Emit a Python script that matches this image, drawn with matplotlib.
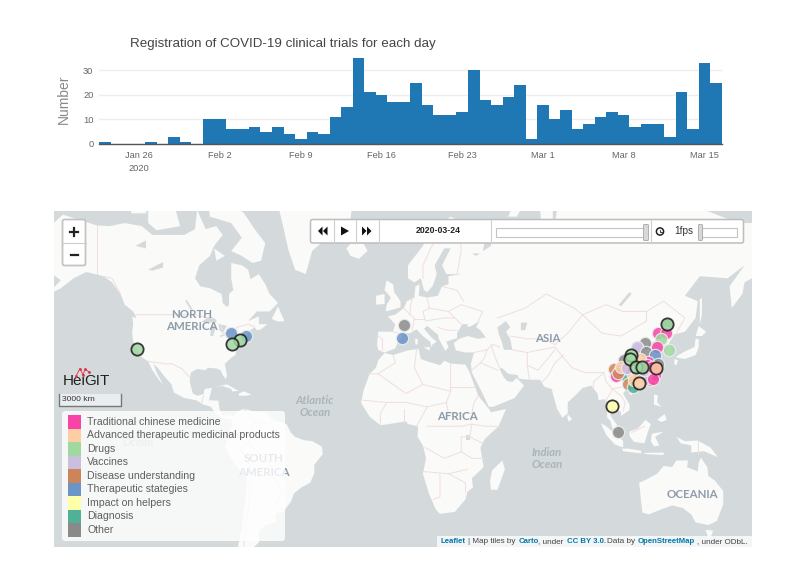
import numpy as np
import pandas as pd
import matplotlib
matplotlib.use("Agg")
import matplotlib.pyplot as plt
from matplotlib.patches import Rectangle, FancyBboxPatch, Polygon, Circle

plt.rcParams['font.family'] = ['Liberation Sans', 'DejaVu Sans']

# trials per day
days = pd.date_range("2020-01-23", "2020-03-16")
trials = [1, 0, 0, 0, 1, 0, 3, 1, 0,
          10, 10, 6, 6, 7, 5, 7, 4, 2, 5, 4, 11, 15, 35, 21, 20, 17, 17, 25, 16, 12, 12, 13, 30, 18, 16, 19, 24, 2,
          16, 10, 14, 6, 8, 11, 13, 12, 7, 8, 8, 3, 21, 6, 33, 25]
tick_days = pd.to_datetime(["2020-01-26", "2020-02-02", "2020-02-09", "2020-02-16",
                            "2020-02-23", "2020-03-01", "2020-03-08", "2020-03-15"])
tick_names = ["Jan 26\n2020", "Feb 2", "Feb 9", "Feb 16", "Feb 23", "Mar 1", "Mar 8", "Mar 15"]

# legend
categories = ["Traditional chinese medicine", "Advanced therapeutic medicinal products", "Drugs",
              "Vaccines", "Disease understanding", "Therapeutic stategies", "Impact on helpers",
              "Diagnosis", "Other"]
cat_colors = ["#f844a8", "#fdcda4", "#a0d8a0", "#cbbfe0", "#cc8558", "#6b94c8", "#ffffaa", "#50b098", "#8a8a8a"]

# trial sites: lon, lat, category, black ring
site_lon = [-122, -78, -71, -73.9, -77.4, 3.1, 2.1, 100.6, 103.8,
            126.8, 122.6, 126.2, 123.7, 121.8, 127.4, 116.3, 113.2, 112.4, 116.6, 121, 106.2,
            117.9, 114, 101.8, 106.2, 106.9, 102.7, 115.5, 120.2, 110.8, 118.7, 108.2, 110.4, 117.1,
            122.6, 109.3, 104.6, 112.4, 121, 116.3, 106.9, 118.5, 113, 103.5, 105, 116, 119.5, 111, 108, 120,
            126.8, 109.6, 109.3, 111.9, 114.8, 114.8, 121.3, 121.3, 113.5]
site_lat = [37.5, 42.9, 42, 40.6, 39, 45.8, 41.2, 13.5, 1.3,
            45.9, 43.2, 43.1, 41, 38.2, 36.9, 39.5, 37.5, 38.1, 36, 35, 32.9,
            32.2, 33.5, 29.5, 28.5, 27, 26.6, 27.2, 27.9, 27.2, 25, 23.1, 21.9, 31,
            31.6, 31, 29.1, 28.5, 27.2, 25.4, 29.7, 29, 30, 28, 30.5, 29, 30.5, 25, 30, 25.5,
            45.9, 35.1, 33.5, 30.1, 30.1, 30.1, 29.7, 29.7, 23.5]
site_cat = [2, 5, 5, 2, 2, 8, 5, 6, 8,
            8, 0, 0, 2, 0, 2, 8, 3, 3, 8, 5, 8,
            0, 1, 4, 1, 7, 0, 3, 0, 1, 4, 4, 7, 0,
            8, 0, 0, 4, 0, 3, 0, 1, 7, 4, 1, 3, 0, 1, 3, 0,
            2, 2, 2, 2, 8, 2, 0, 1, 1]
site_ring = [1, 0, 0, 1, 1, 0, 0, 1, 0,
             0, 0, 0, 0, 0, 0, 0, 0, 0, 0, 0, 0,
             0, 0, 0, 0, 0, 0, 0, 0, 0, 0, 0, 0, 0,
             0, 0, 0, 0, 0, 0, 0, 0, 0, 0, 0, 0, 0, 0, 0, 0,
             1, 1, 1, 1, 0, 1, 0, 1, 1]

# land outlines, lon/lat
north_america = [(-168,65.5),(-166,68.5),(-157,71.3),(-141,69.6),(-135,69.5),(-128,70),(-120,69.5),(-115,68),(-108,68),
    (-100,68),(-95,69),(-94,72),(-90,69),(-85,69.5),(-82,68),(-86,66),(-88,64),(-93,62),(-95,59),(-92.5,57),(-88,56.5),
    (-82.5,55),(-82,52.5),(-80,51.3),(-79,52),(-79,55),(-77,56),(-78,59),(-78,62.5),(-73,62),(-70,61),(-69,58.8),(-65,60),
    (-62,57.5),(-60,55),(-56,52.5),(-60,50),(-66,50),(-70,47),(-65,48.5),(-65,46),(-61,46),(-64,44.3),(-66,44),(-67,45),
    (-70,43.5),(-71,41.5),(-74,40.5),(-75.5,38),(-76,35),(-78,34),(-81,31.5),(-80,27),(-80.5,25.2),(-82,27),(-83,29),
    (-85,29.7),(-89,30),(-90,29),(-94,29.5),(-97,28),(-97.5,24),(-96,19),(-94,18),(-91,18.7),(-90.5,21),(-87,21.5),(-88,18),
    (-88.5,16),(-84,15.8),(-83.5,12),(-82,9),(-79.5,9.5),(-77.3,8.5),(-78,7.5),(-80,7.3),(-83,8.3),(-85.5,10),(-87.5,13),
    (-91,14),(-94.5,16),(-100,17),(-105,19.5),(-106,23),(-109,26),(-112.5,30),(-114.5,31.5),(-113,28),(-110,23),(-112,25),
    (-115,29),(-117,32.5),(-120.5,34.5),(-122.5,37.5),(-124,40),(-124.5,43),(-124,46.5),(-124.5,48.3),(-122.5,48),(-124,50),
    (-128,52),(-130,55),(-134,58),(-138,59.5),(-146,60.5),(-152,59),(-158,56.5),(-165,54.5),(-158,58.5),(-162,60),(-165,62),
    (-161,64)]
south_america = [(-77.3,8.5),(-75,11),(-72,12),(-68,11),(-62,10.5),(-58,7),(-52,5),(-50,1),(-48,-1),(-44,-2.5),(-40,-3),
    (-35.5,-5.5),(-35,-9),(-39,-14),(-39,-18),(-41,-22),(-45,-24),(-48.5,-26.5),(-50,-30),(-53.5,-34),(-57,-34.5),(-57,-38),
    (-62,-39),(-65,-41),(-65,-45),(-68,-47),(-75,-47),(-73,-40),(-71.5,-30),(-70.5,-20),(-76,-14),(-81,-6),(-80,-2),(-79,1.5),
    (-77.5,4),(-78,7.5)]
africa = [(-6,35.8),(-2,35),(5,36.8),(10,37.3),(11,33.5),(15,32.3),(20,31),(22,32.8),(25,31.7),(32,31.2),(34,28),(36,23),
    (38,18),(43,12),(44,10.5),(51,12),(47.5,4),(41,-2),(39,-6),(40.5,-15),(35,-20),(35.5,-24),(32.8,-26),(32,-29),(27,-34),
    (20,-34.8),(18,-33),(15,-27),(12,-18),(13.5,-11),(12,-5),(9.5,-1),(9.7,4),(5,5),(4,6.3),(-4,5),(-8,4.5),(-13,8.5),
    (-17,14.7),(-16,20),(-13,27.5),(-10,30),(-9,33)]
eurasia = [(-6,36),(-9,37),(-9.5,39),(-9,43.5),(-2,43.5),(-1,46),(-4.5,48.5),(-1,49),(3,51),(4.5,53),(8,54),(8.5,57),
    (10.5,57.5),(10,54.5),(14,54),(19,54.5),(21,57),(24,57.5),(24,59.5),(30,60),(23,60),(21,62),(25,65.5),(22,65.5),(17.5,62),
    (18.5,60),(16.5,57),(14,55.5),(12.5,56),(11,59),(8,58),(5,59),(5,62),(12,66),(16,69),(25,71),(31,70),(41,67),(40,64.5),
    (35,64.5),(37,64),(44,66),(44,68.5),(54,68.5),(60,69),(68,68.5),(67,72),(73,73),(73,68),(75,72),(80,73.5),(90,76),(105,78),
    (113,74),(128,73),(140,72.5),(160,70),(170,70),(180,69),(180,65),(177,62.5),(170,60),(163,58),(162,55),(157,51),(156,57),
    (163,62),(155,59),(142,59.5),(135,54.5),(141,53),(140,48),(135,43.5),(130,42.5),(127.5,39.5),(129.5,36),(126.5,34.5),
    (126,37.5),(125,39.7),(121.5,39),(122,40.7),(118,39),(119,37.3),(122.5,37),(119.5,35),(122,31),(121,28),(118,24.5),
    (114,22.3),(110,21),(108,21.5),(106,19),(109,14),(109,11.5),(105,8.8),(105,10.5),(102,12.5),(100.5,13.5),(100,9),(103.5,4),
    (104,1.5),(101,3),(100,6.5),(98.5,8),(98.5,13),(97.5,16.5),(94.5,16),(94,19),(91,22.5),(87,21.5),(85,19.5),(80,15),(80,10),
    (77.5,8),(75,12),(73,19),(72.5,21),(69,22),(67,25),(62,25),(57,25.5),(56.5,27),(52,27.5),(49,30),(48,29.5),(50,26),
    (51.5,24.5),(54,24),(56,25.8),(59.5,22.5),(55,17),(45,13),(43,13),(40,19),(35,28),(34.5,31.5),(36,36),(32,36),(27.5,36.8),
    (26.5,39.5),(29,41),(33,42),(38,41),(41.5,41.5),(39,44),(37,45),(38.5,47),(35,45.5),(33,45),(33,46),(30.5,46),(28,43),
    (28,41.2),(26,40.8),(23,40),(24,38),(22.5,36.6),(19.5,41),(19,42.5),(14,45.5),(12.5,44.5),(16,41.5),(18.5,40),(16.5,39),
    (16,38),(15.5,40),(12,42),(9,44.3),(6,43),(3.5,43),(0,39.5),(-1,37.5),(-5,36.3)]
australia = [(113.5,-22),(114,-26),(115,-34.3),(118,-35),(124,-33),(129,-31.5),(134,-32.5),(138,-35),(140,-38),(146,-39),
    (150,-37.5),(153,-31),(153,-25.5),(149,-21),(146,-19),(145.5,-15),(142.5,-10.7),(141.5,-13),(141,-17),(136,-15),(136.5,-12),
    (131,-12),(129,-15),(125,-14.5),(122,-18),(117,-20.5)]
islands = [
    [(-73,78),(-68,76),(-58,75),(-54,70),(-51,65),(-48,61),(-43,60),(-40,65),(-30,68.5),(-22,70.5),(-20,76),(-20,82),(-60,82)],
    [(-80,73.5),(-72,71.5),(-67,69),(-62,66.5),(-64,63),(-68,62.5),(-73,64),(-78,65),(-73,67.5),(-78,70),(-88,71),(-89,73.5)],
    [(-117,73),(-105,73),(-102,69.5),(-113,68.8),(-117,70)],
    [(-125,74),(-116,74.5),(-118,71.5),(-125,71.5)],
    [(-100,74),(-92,74),(-94,72),(-100,72)],
    [(-120,76),(-100,76),(-100,75),(-118,75)],
    [(-59,47.7),(-56,51.5),(-53,47),(-56,46.8)],
    [(-86,65.5),(-81,64),(-85,63)],
    [(-85,22),(-80,23),(-74.5,20.2),(-77.5,19.9),(-78,21),(-82,22.3)],
    [(-74.4,19),(-72,20),(-68.5,18.5),(-71,18),(-74.4,18)],
    [(-5.5,50),(1.5,51.2),(1.5,53),(-1.5,55.5),(-2,57.5),(-5,58.5),(-6,56),(-3,54),(-5,52)],
    [(-10,52),(-6,52.2),(-6,55),(-10,54.5)],
    [(-24,65.5),(-22,64),(-18,63.4),(-14,65),(-16,66.5),(-22,66.4)],
    [(12.5,38),(15.5,38),(15,36.7)],
    [(8.3,41),(9.7,41),(9.5,39),(8.5,39)],
    [(52,71),(56,71),(69,77),(60,76)],
    [(131,34),(135,33.5),(140,35),(141.5,38),(141.5,41),(140,41),(139.5,38),(136.5,37),(133,35.5),(131,34.5)],
    [(140,42),(141.5,45.4),(145,43.5),(143,42)],
    [(130,33.5),(131.8,33),(131,31),(130,31.5)],
    [(142,46),(143,49),(143,54),(142,53.5),(142,49)],
    [(121,25),(122,25),(120.8,22),(120,23)],
    [(109,20),(111,20),(110,18.3),(108.7,19)],
    [(80,9.5),(82,7.5),(80.5,6),(79.8,8)],
    [(95.5,5.5),(98,4),(104,-1),(106,-3),(106,-6),(102,-4.5),(98,0)],
    [(105.5,-6.5),(108.5,-6.5),(114.5,-7.5),(114.5,-8.7),(106,-7.7)],
    [(109,1.5),(113,3),(116.5,7),(119,5),(117.5,1),(116,-4),(111,-3.3),(109,-0.5)],
    [(119.5,0.5),(125,1.5),(121,-1),(123,-5),(120.5,-5.5),(119,-3)],
    [(131,-1),(135,-3),(141,-2.7),(147,-6),(150.5,-10.5),(144,-7.7),(138,-8.3),(138,-5),(133,-4)],
    [(120.5,18.5),(122.3,18.3),(122,15),(124,13),(120.5,14)],
    [(122,7),(125.5,9.7),(126.5,7),(124,6)],
    [(116,-8.5),(125,-8.3),(125,-9.5),(116,-9)],
    [(144.7,-40.7),(148.3,-41),(147,-43.5),(146,-43.5)],
    [(49.3,-12),(50.5,-16),(47,-25),(44,-25),(43.5,-21),(44.5,-16.5)],
]
lakes = [
    [(47,45),(51,47),(53,45),(51,43.5),(53,41),(54,37),(50,37),(49,40),(47.5,43)],
    [(-92,46.8),(-88,48.5),(-85,47.5),(-85,46.5),(-90,46.5)],
    [(-87.8,42),(-86.5,42),(-85,45.5),(-87.5,45.5)],
    [(-84,46),(-80,45.5),(-82,43),(-83.5,44)],
    [(-83.3,41.6),(-79,42.8),(-79,43),(-83,42.3)],
    [(-79.5,43.5),(-76.5,44),(-76.5,43.3),(-79,43.2)],
    [(-123,66),(-118,67),(-118,65.5)],
    [(-117,61),(-110,62.7),(-110,61.5),(-115,60.8)],
    [(-99,53.5),(-96,50.5),(-97,50.5),(-99.5,53)],
    [(32,0),(34,0),(34,-2.5),(32,-2.5)],
    [(58,46.5),(61,46.5),(60,44),(58,44)],
    [(104,52),(109,55.5),(110,55),(105,51.5)],
]
borders = [
    [(-141,69.6),(-141,60)], [(-130,55),(-134,59),(-138,59.5)],
    [(-123,49),(-95,49),(-89,48)], [(-83,46),(-82,43),(-79,43),(-75,45),(-70,46),(-67,45)],
    [(-117,32.5),(-108,31.5),(-106,31.7),(-101,29.5),(-97.5,26)], [(-92,14.5),(-91,18)],
    [(-72,12),(-67,6),(-70,-4),(-74,-7),(-70,-11),(-69,-17),(-70.5,-18)], [(-67,6),(-60,5),(-58,7)],
    [(-70,-4),(-60,-13),(-58,-20),(-54,-26),(-57,-30),(-53.5,-34)], [(-69,-22),(-70,-33),(-72,-45),(-72,-52)],
    [(-2,43.5),(3,42.5)], [(-9,42),(-7,41),(-7,37)], [(3,51),(6,49),(8,48),(7,44)], [(7,54),(6,51),(6,49)],
    [(14,54),(15,51),(12,50),(13,47.5),(8,47.5)], [(15,51),(24,50),(30,52),(40,50),(38,47)], [(24,50),(27,48),(30,46)],
    [(21,57),(28,56),(31,53)], [(28,60),(30,65),(29,70)], [(20,69),(12,62),(12,59)], [(13,47),(22,48),(27,48)], [(19,45),(23,44),(28,44)],
    [(-2,35),(-1,32),(-9,27.5),(-13,27.5)], [(-9,27.5),(4,19),(12,23),(25,20),(25,31.7)], [(9,37),(8,30),(12,23)],
    [(-16,16),(-5,15),(4,15),(14,13),(23,15),(25,20)], [(23,15),(24,10),(35,10),(36,15),(38,18)], [(25,22),(37,22)],
    [(-8,4.5),(-8,10),(-5,15)], [(3,6),(3,12)], [(14,13),(9,4)], [(14,4),(30,4),(35,5),(41,4),(47.5,4)], [(35,5),(34,-1),(30,-1),(30,-8),(22,-11),(13,-6)],
    [(34,-1),(40,-4)], [(30,-8),(35,-11),(40.5,-11)], [(12,-17),(24,-18),(33,-16)], [(20,-18),(20,-28),(17,-29)], [(24,-18),(32,-22),(32,-26)],
    [(36,36),(42,37),(45,39),(48,38)], [(42,37),(41,34),(39,32),(35,29)], [(39,32),(47,29)], [(44,39),(46,34),(48,30)],
    [(61,36),(61,31),(62,25)], [(54,37),(61,36),(67,37),(74,38)], [(53,42),(61,41),(68,41),(74,39)], [(47,48),(60,51),(70,55),(83,51),(87,49),(80,43),(74,39)],
    [(87,49),(98,52),(106,50),(117,50),(125,53),(135,48),(131,43)], [(87,49),(96,43),(105,42),(112,45),(117,47),(117,50)], [(74,38),(79,33),(82,30),(88,28),(97,28),(98,24),(101,21),(106,22),(108,21.5)],
    [(61,31),(66,29),(70,33),(74,37)], [(68,24),(71,27),(74,32),(78,35)], [(97,28),(92,24),(92,21)], [(101,21),(98,16),(99,11)], [(101,21),(105,18),(107,15),(106,11)], [(124.5,40),(128,42),(130,42.5)],
    [(116,4),(110,1)], [(141,-2.7),(141,-9)],
]
labels = [("NORTH", 192, 314), ("AMERICA", 192, 327), ("ASIA", 548, 339), ("AFRICA", 457, 416),
          ("SOUTH", 264, 459), ("AMERICA", 264, 472), ("OCEANIA", 692, 495)]
water_labels = [("Atlantic", 315, 401), ("Ocean", 315, 412), ("Indian", 547, 452), ("Ocean", 547, 464), ("Ocean", 138, 443)]


def merc(lat):
    return np.log(np.tan(np.radians(45 + np.asarray(lat, dtype=float) / 2)))


def project(points):
    pts = np.array(points, dtype=float)
    return np.column_stack([pts[:, 0], merc(pts[:, 1])])


W, H = 800, 564
fig = plt.figure(figsize=(8, 5.64), dpi=100, facecolor='white')


def axes_px(x0, y0, x1, y1, **kw):
    return fig.add_axes([x0 / W, 1 - y1 / H, (x1 - x0) / W, (y1 - y0) / H], **kw)


# bar chart
ax = axes_px(99, 58, 721.7, 144)
ax.bar(days, trials, width=1, color='#1f77b4', linewidth=0, zorder=2)
ax.set_xlim(days[0] - pd.Timedelta(hours=12), days[-1] + pd.Timedelta(hours=12))
ax.set_ylim(0, 35)
ax.set_yticks([0, 10, 20, 30])
ax.set_xticks(tick_days)
ax.set_xticklabels(tick_names, linespacing=1.55)
ax.tick_params(length=0, labelsize=6.7, labelcolor='#666666')
ax.tick_params(axis='x', pad=5)
ax.tick_params(axis='y', pad=4)
ax.grid(axis='y', color='#eeeeee', linewidth=1, zorder=0)
for name in ['top', 'right', 'left']:
    ax.spines[name].set_visible(False)
ax.spines['bottom'].set_color('#555555')
ax.spines['bottom'].set_linewidth(1)

# map, web mercator
mp = axes_px(54, 211, 752, 547)
water = '#d4dadc'
land = '#fafaf8'
mp.set_facecolor(water)
mp.set_xlim(-161.2, 166.5)
mp.set_ylim(-0.92, 1.834)
mp.set_xticks([])
mp.set_yticks([])
for s in mp.spines.values():
    s.set_visible(False)
for shape in [north_america, south_america, africa, eurasia, australia] + islands:
    mp.add_patch(Polygon(project(shape), closed=True, facecolor=land, edgecolor='none', zorder=1))
for shape in lakes:
    mp.add_patch(Polygon(project(shape), closed=True, facecolor=water, edgecolor='none', zorder=2))
for line in borders:
    xy = project(line)
    mp.plot(xy[:, 0], xy[:, 1], color='#f0dede', linewidth=0.7, zorder=3)

# trial sites
site_y = merc(site_lat)
for i in range(len(site_lon)):
    if site_ring[i]:
        edge, lw = '#1a1a1a', 1.3
    else:
        edge, lw = '#eeeeee', 0.9
    mp.scatter(site_lon[i], site_y[i], s=78, color=cat_colors[site_cat[i]], alpha=0.85,
               edgecolors=edge, linewidths=lw, zorder=5 + site_ring[i])

# everything on top of the map, in pixels
ui = fig.add_axes([0, 0, 1, 1], facecolor='none')
ui.set_xlim(0, W)
ui.set_ylim(H, 0)
ui.axis('off')

# chart titles
ui.text(130, 44, "Registration of COVID-19 clinical trials for each day", fontsize=9.65, color='#444444', va='center')
ui.text(63.5, 99, "Number", fontsize=10, color='#888888', rotation=90, va='center', ha='center')

for t, x, y in labels:
    ui.text(x, y, t, family='Lato', weight='bold', fontsize=8.3, color='#8d9caa', ha='center', va='center', zorder=2)
for t, x, y in water_labels:
    ui.text(x, y, t, family='Lato', style='italic', weight='bold', fontsize=8.2, color='#a9b4bb', ha='center', va='center', zorder=2)

# zoom control
ui.add_patch(FancyBboxPatch((62.5, 219.5), 23, 46, boxstyle="round,pad=0,rounding_size=2", fc='white', ec='#c4c4c4', lw=1.3, zorder=5))
ui.plot([63, 85.5], [242.5, 242.5], color='#cccccc', lw=0.8, zorder=6)
ui.plot([70, 78], [232, 232], color='#222222', lw=1.6, zorder=6)
ui.plot([74, 74], [228, 236], color='#222222', lw=1.6, zorder=6)
ui.plot([70.5, 77.5], [254.5, 254.5], color='#222222', lw=1.6, zorder=6)

# logo and scale bar
ui.text(62.5, 381, "Hei", fontsize=11, color='#222222', va='center', zorder=5)
ui.text(84, 381, "GIT", fontsize=11, color='#222222', va='center', zorder=5)
ui.plot([76, 80, 83, 85, 89], [376, 368.5, 375, 369, 372], color='#dd3344', lw=0.6, marker='o', markersize=1, zorder=5)
ui.add_patch(Rectangle((58.5, 394), 62.5, 12, fc='#f0f3f4', ec='none', alpha=0.8, zorder=5))
ui.plot([58.5, 58.5, 121, 121], [394, 406, 406, 394], color='#777777', lw=1, zorder=6)
ui.text(62.5, 399.5, "3000 km", fontsize=6.1, color='#333333', va='center', zorder=6)

# time slider
ui.add_patch(FancyBboxPatch((310.5, 219.5), 433, 23.5, boxstyle="round,pad=0,rounding_size=2", fc='white', ec='#bdbdbd', lw=1.1, zorder=5))
for x in [333.5, 356, 378.7, 490.7, 650.7]:
    ui.plot([x, x], [220, 243], color='#cfcfcf', lw=0.8, zorder=6)
for pts in [[(322.5, 226.5), (318, 231), (322.5, 235.5)], [(327.5, 226.5), (323, 231), (327.5, 235.5)],
            [(341, 226.5), (349, 231), (341, 235.5)],
            [(362, 226.5), (366.5, 231), (362, 235.5)], [(367, 226.5), (371.5, 231), (367, 235.5)]]:
    ui.add_patch(Polygon(pts, closed=True, fc='#111111', ec='none', zorder=6))
ui.text(438, 230.5, "2020-03-24", fontsize=6.3, weight='bold', color='#222222', ha='center', va='center', zorder=6)
ui.add_patch(Rectangle((495.7, 227.7), 151, 9, fc='white', ec='#c4c4c4', lw=0.8, zorder=6))
ui.add_patch(FancyBboxPatch((643.5, 224.5), 5, 16, boxstyle="round,pad=0,rounding_size=1", fc='#d8d8d8', ec='#b0b0b0', lw=0.7, zorder=7))
ui.add_patch(Circle((660, 231.5), 3.6, fc='white', ec='#222222', lw=1.1, zorder=6))
ui.plot([660, 660, 661.5], [229.5, 231.5, 231.5], color='#222222', lw=0.6, zorder=7)
ui.text(683.3, 231, "1fps", fontsize=7.2, color='#333333', ha='center', va='center', zorder=6)
ui.add_patch(Rectangle((698, 227.7), 39, 9, fc='white', ec='#c4c4c4', lw=0.8, zorder=6))
ui.add_patch(FancyBboxPatch((698.5, 224.5), 4, 16, boxstyle="round,pad=0,rounding_size=1", fc='#d8d8d8', ec='#b0b0b0', lw=0.7, zorder=7))

# legend
ui.add_patch(FancyBboxPatch((62, 411), 223, 130, boxstyle="round,pad=0,rounding_size=3", fc='white', ec='none', alpha=0.8, zorder=5))
for i, name in enumerate(categories):
    y = 415 + i * 13.5
    ui.add_patch(Rectangle((67.7, y), 13.3, 13.5, fc=cat_colors[i], ec='none', zorder=6))
    ui.text(87, y + 6.7, name, fontsize=7.6, color='#5f5f5f', va='center', zorder=6)

# attribution
ui.add_patch(Rectangle((436.7, 536), 315.3, 11, fc='white', ec='none', alpha=0.75, zorder=5))
att_color = '#0078a8'
for t, x, bold in [("Leaflet", 440.7, True), ("| Map tiles by", 467.5, False), ("Carto", 519, True), (", under", 538.5, False),
                   ("CC BY 3.0.", 567, True), ("Data by", 606.7, False), ("OpenStreetMap", 637.3, True), (", under ODbL.", 696.7, False)]:
    ui.text(x, 541.7, t, fontsize=5.6 if bold else 5.9, weight='bold' if bold else 'normal',
            color=att_color if bold else '#444444', va='center', zorder=6)

fig.savefig("out.png", dpi=100)
